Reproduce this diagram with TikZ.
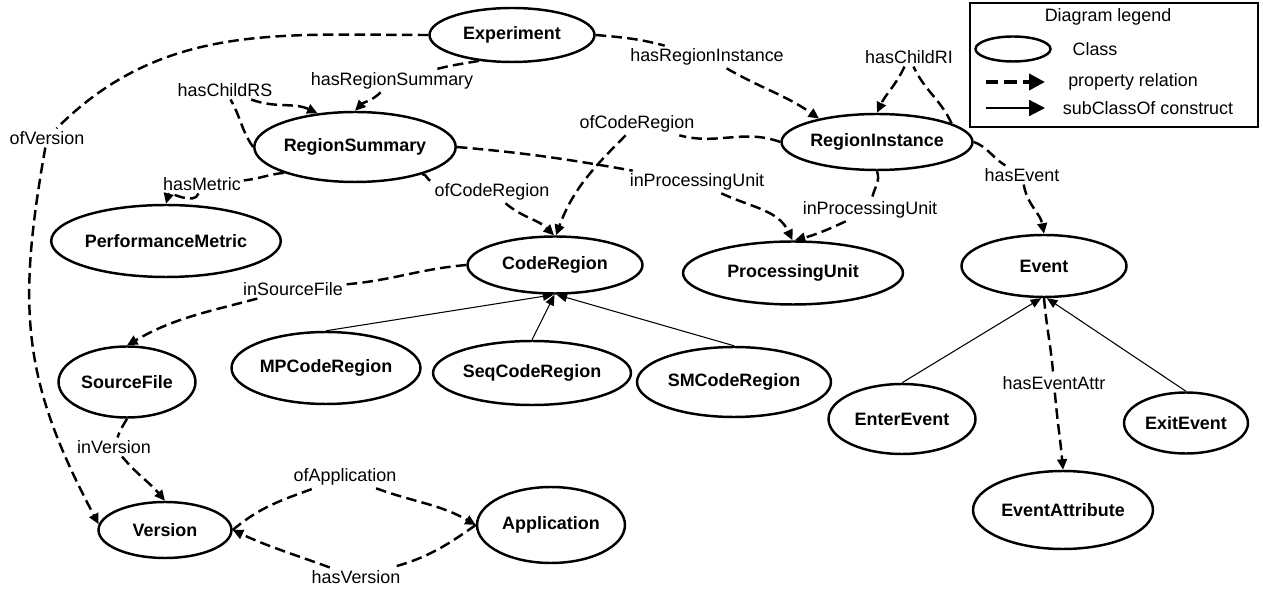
\documentclass[tikz,border=0pt]{standalone}
\usepackage{fontspec}
\setmainfont{Liberation Sans}
\usetikzlibrary{shapes.geometric,arrows.meta}
\tikzset{
  cls/.style={ellipse,draw,line width=1.4pt,inner sep=0pt,font=\fontsize{10.2}{12}\selectfont\bfseries},
  lbl/.style={inner sep=1.5pt,font=\fontsize{10.2}{12}\selectfont},
  prop/.style={line width=1.4pt,dash pattern=on 6pt off 3pt,-{Triangle[length=6pt,width=5.5pt]}},
  sub/.style={line width=0.6pt,-{Triangle[length=6pt,width=5pt]}}
}
\begin{document}
\begin{tikzpicture}[x=0.02cm,y=-0.02cm]
\useasboundingbox (0,0) rectangle (1263,590);
% classes
\node[cls,minimum width=3.3cm,minimum height=1.08cm] (exp) at (512,35) {Experiment};
\node[cls,minimum width=4cm,minimum height=1.4cm] (rs) at (355,147) {RegionSummary};
\node[cls,minimum width=4.56cm,minimum height=1.44cm] (pm) at (166,241) {PerformanceMetric};
\node[cls,minimum width=3.82cm,minimum height=1.12cm] (ri) at (877,142) {RegionInstance};
\node[cls,minimum width=3.5cm,minimum height=1.14cm] (cr) at (555,265) {CodeRegion};
\node[cls,minimum width=4.4cm,minimum height=1.26cm] (pu) at (793,273) {ProcessingUnit};
\node[cls,minimum width=3.3cm,minimum height=1.24cm] (ev) at (1044,266) {Event};
\node[cls,minimum width=2.94cm,minimum height=1.4cm] (enter) at (902,419) {EnterEvent};
\node[cls,minimum width=2.48cm,minimum height=1.22cm] (exit) at (1186,423) {ExitEvent};
\node[cls,minimum width=3.6cm,minimum height=1.56cm] (attr) at (1063,510) {EventAttribute};
\node[cls,minimum width=2.74cm,minimum height=1.42cm] (sf) at (127,382) {SourceFile};
\node[cls,minimum width=3.78cm,minimum height=1.44cm] (mp) at (326,368) {MPCodeRegion};
\node[cls,minimum width=3.96cm,minimum height=1.28cm] (seq) at (532,373) {SeqCodeRegion};
\node[cls,minimum width=3.88cm,minimum height=1.4cm] (sm) at (734,382) {SMCodeRegion};
\node[cls,minimum width=2.66cm,minimum height=1.12cm] (ver) at (165,530) {Version};
\node[cls,minimum width=2.96cm,minimum height=1.52cm] (app) at (551,525) {Application};
% property labels
\node[lbl] (lofv) at (47,138) {ofVersion};
\node[lbl] (lhrs) at (392,81) {hasRegionSummary};
\node[lbl] (lhcrs) at (225,90) {hasChildRS};
\node[lbl] (lhm) at (202,184) {hasMetric};
\node[lbl] (locr1) at (492,192) {ofCodeRegion};
\node[lbl] (lipu1) at (697,182) {inProcessingUnit};
\node[lbl] (lipu2) at (870,210) {inProcessingUnit};
\node[lbl] (lhcri) at (909,57) {hasChildRI};
\node[lbl] (lhe) at (1022,175) {hasEvent};
\node[lbl] (lhri) at (707,57) {hasRegionInstance};
\node[lbl] (locr2) at (637,124) {ofCodeRegion};
\node[lbl] (lisf) at (293,289) {inSourceFile};
\node[lbl] (liv) at (114,447) {inVersion};
\node[lbl] (loa) at (345,477) {ofApplication};
\node[lbl] (lhv) at (356,577) {hasVersion};
\node[lbl] (lhea) at (1054,383) {hasEventAttr};
% property relations
\draw[prop] (exp.west) to[out=180,in=45] (lofv) to[out=-100,in=118,looseness=1.1] (ver.175);
\draw[prop] (exp.218) to[out=190,in=15] (lhrs) to[out=-135,in=45] (rs.north);
\draw[prop] (rs.west) to[out=125,in=-60] (lhcrs) to[out=-20,in=155] (rs.138);
\draw[prop] (rs.200) to[out=185,in=5] (lhm) to[out=-110,in=75] (pm.north);
\draw[prop] (rs.-22) to[out=0,in=170] (locr1) to[out=-40,in=135] (cr.92);
\draw[prop] (rs.east) to[out=-5,in=170] (lipu1) to[out=-25,in=115] (pu.91);
\draw[prop] (ri.south) to[out=-70,in=80] (lipu2) to[out=-155,in=15] (pu.87);
\draw[prop] (ri.14) to[out=115,in=-65] (lhcri) to[out=-115,in=65] (ri.north);
\draw[prop] (ri.east) to[out=-20,in=150] (lhe) to[out=-80,in=100] (ev.north);
\draw[prop] (exp.east) to[out=-5,in=165] (lhri) to[out=-30,in=145] (ri.158);
\draw[prop] (ri.west) to[out=160,in=-15] (locr2) to[out=-135,in=70] (cr.88);
\draw[prop] (cr.west) to[out=185,in=5] (lisf) to[out=-165,in=30] (sf.north);
\draw[prop] (sf.south) to[out=-120,in=70] (liv) to[out=-50,in=130] (ver.north);
\draw[prop] (ver.east) to[out=40,in=-160] (loa) to[out=-20,in=150] (app.west);
\draw[prop] (app.west) to[out=-145,in=15] (lhv) to[out=160,in=-25] (ver.east);
\draw[prop] (ev.south) to[out=-85,in=95] (lhea) to[out=-85,in=95] (attr.north);
% subclasses
\draw[sub] (mp.north) -- (cr.-93);
\draw[sub] (seq.north) -- (cr.-91);
\draw[sub] (sm.north) -- (cr.-87);
\draw[sub] (enter.north) -- (ev.-95);
\draw[sub] (exit.north) -- (ev.-85);
% legend
\node[draw,line width=0.8pt,minimum width=5.76cm,minimum height=2.48cm] (legend) at (1114,65) {};
\node[lbl] (lgtitle) at (1108,17) {Diagram legend};
\node[cls,minimum width=1.5cm,minimum height=0.5cm] (lgcls) at (1013,49) {};
\node[lbl] (lgclstxt) at (1095,49) {Class};
\coordinate (lgpa) at (986,82);
\coordinate (lgpb) at (1045,82);
\draw[line width=2.4pt,dash pattern=on 7pt off 3.5pt,-{Triangle[length=9pt,width=9pt]}] (lgpa) -- (lgpb);
\node[lbl] (lgproptxt) at (1133,82) {property relation};
\coordinate (lgsa) at (986,108);
\coordinate (lgsb) at (1045,108);
\draw[line width=1.2pt,-{Triangle[length=9pt,width=9pt]}] (lgsa) -- (lgsb);
\node[lbl] (lgsubtxt) at (1148,108) {subClassOf construct};
\end{tikzpicture}
\end{document}
